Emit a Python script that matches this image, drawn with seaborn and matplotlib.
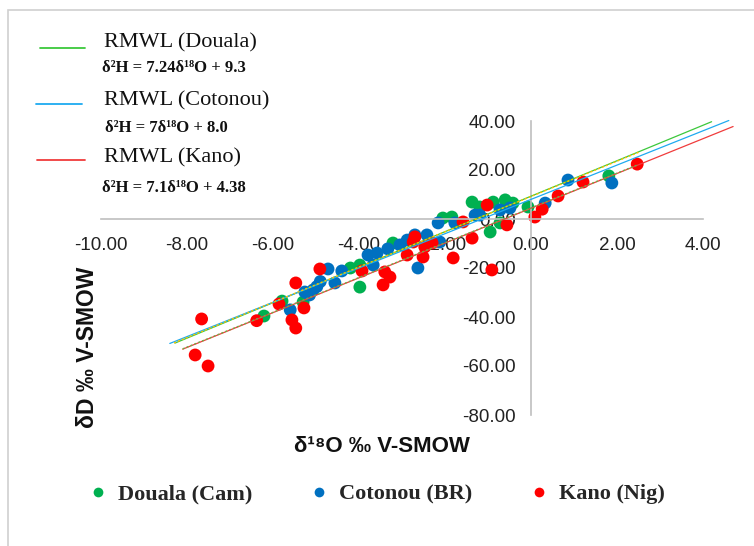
import matplotlib.pyplot as plt
import matplotlib.lines as mlines
import matplotlib.patches as mpatches
import seaborn as sns
import pandas as pd
import numpy as np

# d18O / dD readings per station
douala_x = [-6.21, -5.79, -5.30, -4.20, -3.98, -3.98, -3.21, -2.05, -1.84, -1.37,
            -1.19, -0.95, -0.88, -0.60, -0.72, -0.42, -0.07, 1.81]
douala_y = [-39.6, -33.5, -33.9, -20.0, -27.8, -18.8, -9.8, 0.4, 0.8, 6.9,
            4.9, -5.3, 6.9, 7.8, -1.6, 6.5, 4.9, 17.6]

cotonou_x = [-5.60, -5.26, -5.15, -5.07, -4.98, -4.90, -4.72, -4.56, -4.40, -3.79,
             -3.67, -3.58, -3.33, -3.05, -2.88, -2.63, -2.70, -2.42, -2.12, -2.16,
             -1.77, -1.30, -1.19, -0.72, -0.49, 0.33, 0.86, 1.88]
cotonou_y = [-37.1, -29.8, -31.0, -29.0, -27.6, -25.5, -20.4, -26.1, -21.2, -14.7,
             -18.8, -13.9, -12.2, -10.6, -8.6, -20.0, -6.5, -6.5, -9.4, -1.6,
             -1.6, 1.6, 1.6, 3.7, 4.5, 6.5, 15.9, 14.7]

kano_x = [-7.66, -7.81, -7.51, -6.38, -5.86, -5.47, -5.56, -5.47, -5.28, -4.91,
          -3.93, -3.40, -3.44, -3.28, -2.88, -2.74, -2.70, -2.47, -2.51, -2.30,
          -1.81, -1.58, -1.37, -1.02, -0.91, -0.56, 0.09, 0.26, 0.63, 1.21, 2.47]
kano_y = [-40.8, -55.5, -60.0, -41.5, -34.7, -26.1, -41.2, -44.5, -36.3, -20.4,
          -21.2, -21.6, -26.9, -23.7, -14.7, -9.4, -7.3, -11.4, -15.5, -9.8,
          -15.9, -1.2, -7.8, 5.7, -20.8, -2.4, 0.8, 4.0, 9.4, 15.1, 22.4]

stations = ['Douala (Cam)', 'Cotonou (BR)', 'Kano (Nig)']
station_colors = {'Douala (Cam)': '#00B050', 'Cotonou (BR)': '#0070C0', 'Kano (Nig)': '#FF0000'}

# regional meteoric water lines: slope, intercept, x extent
rmwl_names = ['RMWL (Douala)', 'RMWL (Cotonou)', 'RMWL (Kano)']
rmwl_eqs = ['δ²H = 7.24δ¹⁸O + 9.3', 'δ²H = 7δ¹⁸O + 8.0', 'δ²H = 7.1δ¹⁸O + 4.38']
rmwl_slope = [7.24, 7.0, 7.1]
rmwl_icpt = [9.3, 8.0, 4.38]
rmwl_xrange = [(-8.28, 4.2), (-8.4, 4.6), (-8.1, 4.7)]
rmwl_colors = ['#3CC83C', '#1EAAF0', '#F03C3C']

# dotted excel trendlines
trend_slope = [7.2, 7.1]
trend_icpt = [9.2, 4.5]
trend_xrange = [(-8.3, 2.5), (-8.1, 2.5)]
trend_colors = ['#FFC000', '#70AD47']

xticks = [-10, -8, -6, -4, -2, 0, 2, 4]
yticks = [40, 20, 0, -20, -40, -60, -80]

sns.set_style("white")
plt.rcParams['font.family'] = ['Liberation Sans', 'DejaVu Sans']
serif = ['Liberation Serif', 'DejaVu Serif']

data = pd.concat([
    pd.DataFrame({'d18O': douala_x, 'dD': douala_y, 'Station': stations[0]}),
    pd.DataFrame({'d18O': cotonou_x, 'dD': cotonou_y, 'Station': stations[1]}),
    pd.DataFrame({'d18O': kano_x, 'dD': kano_y, 'Station': stations[2]}),
], ignore_index=True)

W, H = 754, 546
fig = plt.figure(figsize=(W / 100, H / 100), dpi=100)


def fx(px):
    return px / W


def fy(py):
    return 1 - py / H


ax = fig.add_axes([fx(101), fy(415), fx(703) - fx(101), fy(121) - fy(415)])
ax.set_facecolor('none')

sns.scatterplot(data=data, x='d18O', y='dD', hue='Station', hue_order=stations,
                palette=station_colors, s=85, linewidth=0, ax=ax, legend=False, zorder=1)

for (x0, x1), m, b, c in zip(rmwl_xrange, rmwl_slope, rmwl_icpt, rmwl_colors):
    xs = np.array([x0, x1])
    ax.plot(xs, m * xs + b, color=c, lw=0.9, zorder=3, clip_on=False)

for (x0, x1), m, b, c in zip(trend_xrange, trend_slope, trend_icpt, trend_colors):
    xs = np.array([x0, x1])
    ax.plot(xs, m * xs + b, color=c, lw=1.0, ls=(0, (1.5, 1.5)), zorder=3)

ax.set_xlim(-10, 4)
ax.set_ylim(-80, 40)
ax.set_xticks(xticks)
ax.set_yticks(yticks)
ax.xaxis.set_major_formatter(plt.FuncFormatter(lambda v, _: f"{v:.2f}"))
ax.yaxis.set_major_formatter(plt.FuncFormatter(lambda v, _: f"{v:.2f}"))
ax.set_xlabel('')
ax.set_ylabel('')
for side in ['top', 'right']:
    ax.spines[side].set_visible(False)
for side in ['left', 'bottom']:
    ax.spines[side].set_position(('data', 0))
    ax.spines[side].set_color('#BFBFBF')
    ax.spines[side].set_linewidth(1.2)
ax.tick_params(axis='x', length=0, pad=13, labelsize=13.5, labelcolor='#222222')
ax.tick_params(axis='y', length=0, pad=11, labelsize=13.5, labelcolor='#222222')

# axis titles
fig.text(fx(382), fy(447), 'δ¹⁸O ‰ V-SMOW', ha='center', va='center',
         fontsize=16, fontweight='bold', color='#111111')
fig.text(fx(88), fy(347), 'δD ‰ V-SMOW', ha='center', va='center', rotation=90,
         fontsize=16.5, fontweight='bold', color='#111111')

# RMWL key, top left
key_line_y = [48, 104, 160]
key_line_x = [(40, 85), (36, 82), (37, 85)]
key_label_y = [43, 101, 158]
key_eq_pos = [(102, 68), (105, 128), (102, 188)]
for i in range(3):
    x0, x1 = key_line_x[i]
    fig.add_artist(mlines.Line2D([fx(x0), fx(x1)], [fy(key_line_y[i])] * 2,
                                 transform=fig.transFigure, color=rmwl_colors[i], lw=1.3))
    fig.text(fx(104), fy(key_label_y[i]), rmwl_names[i], ha='left', va='center',
             family=serif, fontsize=16, color='#111111')
    ex, ey = key_eq_pos[i]
    fig.text(fx(ex), fy(ey), rmwl_eqs[i], ha='left', va='center',
             family=serif, fontsize=12, fontweight='bold', color='#111111')

# station key, bottom
handles = [mlines.Line2D([], [], marker='o', linestyle='none', markersize=7,
                         markeredgewidth=0, color=station_colors[s]) for s in stations]
fig.legend(handles, stations, loc='center', bbox_to_anchor=(fx(377), fy(494)), ncol=3,
           frameon=False, handlelength=0.8, handletextpad=0.5, columnspacing=2.6,
           prop=dict(family=serif, weight='bold', size=16))

# chart border
fig.add_artist(mpatches.Rectangle((fx(8), fy(600)), fx(800), fy(10) - fy(600),
                                  transform=fig.transFigure, fill=False,
                                  edgecolor='#D0D0D0', lw=1.2))

plt.savefig('out.png', dpi=100)
